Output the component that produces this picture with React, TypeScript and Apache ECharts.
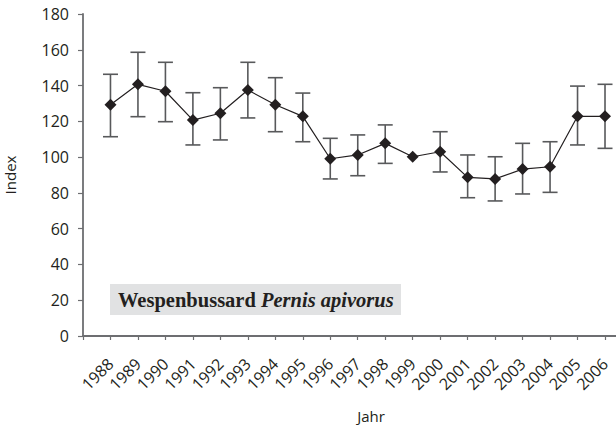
import React, { useEffect, useRef } from "react";
import * as echarts from "echarts";

const years = [1988, 1989, 1990, 1991, 1992, 1993, 1994, 1995, 1996, 1997, 1998, 1999, 2000, 2001, 2002, 2003, 2004, 2005, 2006];
const indexValues = [129.3, 140.7, 136.8, 120.7, 124.5, 137.5, 129.3, 122.8, 99.1, 101.2, 107.7, 100.2, 103.0, 88.7, 87.8, 93.3, 94.6, 122.8, 122.8];
const upperValues = [146.3, 158.6, 153.0, 136.0, 138.8, 153.0, 144.4, 135.8, 110.5, 112.4, 118.0, null, 114.2, 101.2, 100.2, 107.7, 108.6, 139.7, 140.7];
const lowerValues = [111.4, 122.6, 119.8, 106.8, 109.6, 121.9, 114.2, 108.6, 87.8, 89.6, 96.5, null, 91.7, 77.3, 75.5, 79.4, 80.3, 106.8, 104.9];
const xTickYears = [1987, ...years];

export default function App() {
  const ref = useRef<HTMLDivElement>(null);
  useEffect(() => {
    if (!ref.current) return;
    const chart = echarts.init(ref.current, null, { renderer: "svg" });
    const axisColor = "#6d6e71";
    const textColor = "#231f20";
    const font = "'Open Sans', sans-serif";
    chart.setOption({
      animation: false,
      grid: { left: 83, top: 14, right: 0, bottom: 89, containLabel: false, outerBoundsMode: "none" },
      xAxis: {
        type: "value",
        min: 1987,
        max: 2006.4,
        interval: 1,
        axisLine: { show: true, lineStyle: { color: axisColor, width: 1.8 } },
        axisTick: { show: true, length: 4, lineStyle: { color: axisColor, width: 1.2 }, customValues: xTickYears },
        axisLabel: {
          customValues: years,
          rotate: 45,
          margin: 25,
          color: textColor,
          fontFamily: font,
          fontSize: 16,
          formatter: (v: number) => String(v),
        },
        splitLine: { show: false },
      },
      yAxis: {
        type: "value",
        min: 0,
        max: 180,
        interval: 20,
        name: "Index",
        nameLocation: "middle",
        nameGap: 66,
        nameTextStyle: { color: textColor, fontFamily: font, fontSize: 15 },
        axisLine: { show: true, lineStyle: { color: axisColor, width: 1.8 } },
        axisTick: { show: true, length: 5, lineStyle: { color: axisColor, width: 1.2 } },
        axisLabel: { color: textColor, fontFamily: font, fontSize: 16, margin: 14 },
        splitLine: { show: false },
      },
      graphic: [
        {
          type: "rect",
          shape: { x: 110, y: 284, width: 291, height: 31 },
          style: { fill: "#e1e2e3" },
          z: 1,
        },
        {
          type: "text",
          x: 118,
          y: 300,
          z: 2,
          style: {
            text: "{b|Wespenbussard }{i|Pernis apivorus}",
            verticalAlign: "middle",
            rich: {
              b: { fontFamily: "'Liberation Serif', serif", fontWeight: "bold", fontSize: 20.5, fill: textColor },
              i: { fontFamily: "'Liberation Serif', serif", fontWeight: "bold", fontStyle: "italic", fontSize: 20.5, fill: textColor },
            },
          },
        },
        {
          type: "text",
          x: 371,
          y: 416,
          style: { text: "Jahr", fontFamily: font, fontSize: 15, fill: textColor, align: "center", verticalAlign: "middle" },
        },
      ],
      series: [
        {
          type: "custom",
          data: years.map((y, i) => [y, lowerValues[i], upperValues[i]]),
          z: 1,
          renderItem: (params: any, api: any) => {
            const lo = api.value(1);
            const hi = api.value(2);
            if (lo == null || hi == null || isNaN(lo) || isNaN(hi)) return null;
            const x = api.value(0);
            const pLo = api.coord([x, lo]);
            const pHi = api.coord([x, hi]);
            const hw = 7.5;
            const st = { stroke: "#58595b", lineWidth: 1.6 };
            return {
              type: "group",
              children: [
                { type: "line", shape: { x1: pLo[0], y1: pLo[1], x2: pHi[0], y2: pHi[1] }, style: st },
                { type: "line", shape: { x1: pLo[0] - hw, y1: pLo[1], x2: pLo[0] + hw, y2: pLo[1] }, style: st },
                { type: "line", shape: { x1: pHi[0] - hw, y1: pHi[1], x2: pHi[0] + hw, y2: pHi[1] }, style: st },
              ],
            };
          },
        },
        {
          type: "line",
          data: years.map((y, i) => [y, indexValues[i]]),
          symbol: "diamond",
          symbolSize: 12,
          z: 3,
          lineStyle: { color: "#231f20", width: 1.2 },
          itemStyle: { color: "#231f20" },
        },
      ],
    });
    return () => chart.dispose();
  }, []);
  return <div ref={ref} style={{ position: "absolute", left: 0, top: 0, width: 616, height: 425 }} />;
}
